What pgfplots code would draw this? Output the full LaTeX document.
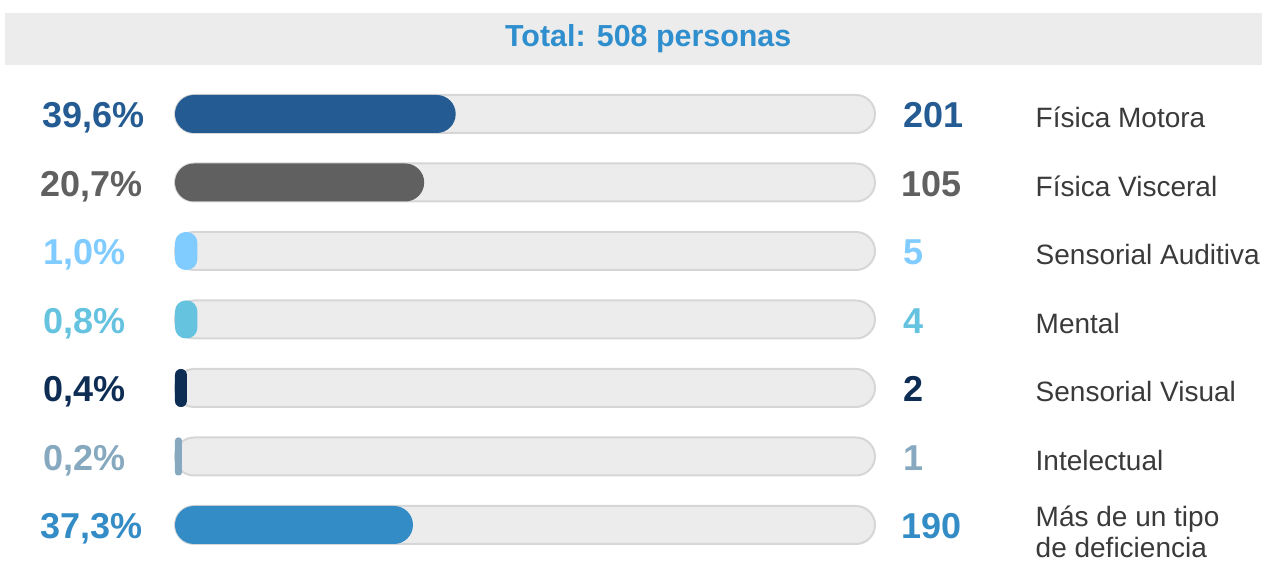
\documentclass[border=0pt]{standalone}
\usepackage{pgfplots}
\pgfplotsset{compat=1.18}
\usepackage{fontspec}
\setmainfont{Liberation Sans}
\definecolor{c1}{RGB}{35,91,146}
\definecolor{c2}{RGB}{96,96,96}
\definecolor{c3}{RGB}{128,203,255}
\definecolor{c4}{RGB}{102,195,224}
\definecolor{c5}{RGB}{14,45,85}
\definecolor{c6}{RGB}{135,169,191}
\definecolor{c7}{RGB}{52,140,198}
\definecolor{ttl}{RGB}{47,143,206}
\definecolor{trk}{RGB}{236,236,236}
\definecolor{trkb}{RGB}{214,214,214}
\definecolor{band}{RGB}{236,236,236}
\definecolor{txt}{RGB}{58,58,58}
\begin{document}
\begin{tikzpicture}[
  pct/.style={anchor=base west, inner sep=0pt, yshift=-7pt, font=\fontsize{18}{20}\selectfont\bfseries},
  cnt/.style={anchor=base west, inner sep=0pt, yshift=-7pt, font=\fontsize{18}{20}\selectfont\bfseries},
  cat/.style={anchor=base west, inner sep=0pt, yshift=-7pt, font=\fontsize{14}{15.5}\selectfont, text=txt},
]
\begin{axis}[
  scale only axis, width=350pt, height=239.75pt,
  xmin=0, xmax=100, ymin=0.5, ymax=7.5,
  hide axis, clip=false,
  bar/.style={xbar, bar width=19pt, bar shift=0pt, draw=none},
]
% bounding box and header band
\path (axis cs:-25,8.6642) rectangle (axis cs:155.286,0.4453);
\fill[band] (axis cs:-24.286,8.4745) rectangle (axis cs:155.286,7.7153);
\node[text=ttl, inner sep=0pt, font=\fontsize{15.2}{18}\selectfont\bfseries] at (axis cs:67.6,8.095) {Total: 508 personas};
% tracks
\addplot[bar, fill=trk, draw=trkb, line width=1pt, rounded corners=9.5pt]
  coordinates {(100,1) (100,2) (100,3) (100,4) (100,5) (100,6) (100,7)};
% bars
\addplot[bar, fill=c1, rounded corners=9.5pt] coordinates {(40.1,7)};
\addplot[bar, fill=c2, rounded corners=9.5pt] coordinates {(35.6,6)};
\addplot[bar, fill=c3, rounded corners=5.4pt] coordinates {(3.2,5)};
\addplot[bar, fill=c4, rounded corners=5.4pt] coordinates {(3.2,4)};
\addplot[bar, fill=c5, rounded corners=2.9pt] coordinates {(1.7,3)};
\addplot[bar, fill=c6, rounded corners=1.5pt] coordinates {(1.0,2)};
\addplot[bar, fill=c7, rounded corners=9.5pt] coordinates {(34.0,1)};
% percentages
\node[pct, text=c1] at (axis cs:-19,7) {39,6\%};
\node[pct, text=c2] at (axis cs:-19.3,6) {20,7\%};
\node[pct, text=c3] at (axis cs:-18.9,5) {1,0\%};
\node[pct, text=c4] at (axis cs:-18.9,4) {0,8\%};
\node[pct, text=c5] at (axis cs:-18.9,3) {0,4\%};
\node[pct, text=c6] at (axis cs:-18.9,2) {0,2\%};
\node[pct, text=c7] at (axis cs:-19.3,1) {37,3\%};
% counts
\node[cnt, text=c1] at (axis cs:104,7) {201};
\node[cnt, text=c2] at (axis cs:103.7,6) {105};
\node[cnt, text=c3] at (axis cs:104,5) {5};
\node[cnt, text=c4] at (axis cs:104,4) {4};
\node[cnt, text=c5] at (axis cs:104,3) {2};
\node[cnt, text=c6] at (axis cs:104,2) {1};
\node[cnt, text=c7] at (axis cs:103.7,1) {190};
% categories
\node[cat] at (axis cs:122.9,7) {Física Motora};
\node[cat] at (axis cs:122.9,6) {Física Visceral};
\node[cat] at (axis cs:122.9,5) {Sensorial Auditiva};
\node[cat] at (axis cs:122.9,4) {Mental};
\node[cat] at (axis cs:122.9,3) {Sensorial Visual};
\node[cat] at (axis cs:122.9,2) {Intelectual};
\node[anchor=west, align=left, font=\fontsize{14}{15.5}\selectfont, text=txt, inner sep=0pt] at (axis cs:122.9,0.9) {Más de un tipo\\de deficiencia};
\end{axis}
\end{tikzpicture}
\end{document}
